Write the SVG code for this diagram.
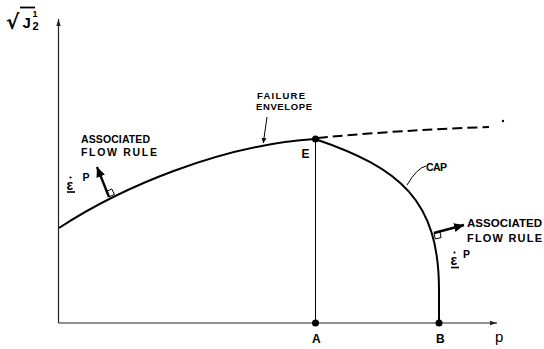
<svg xmlns="http://www.w3.org/2000/svg" width="544" height="349" viewBox="0 0 544 349">
<style>
.lbl{font-family:"Liberation Sans",Arial,sans-serif;font-weight:bold;fill:#000}
.ax{stroke:#222;stroke-width:1.2;fill:none}
.crv{stroke:#000;stroke-width:2;fill:none}
.thin{stroke:#000;stroke-width:1;fill:none}
.pt{fill:#000}
</style>
<defs>
<marker id="axh" markerWidth="8" markerHeight="6" refX="7" refY="3" orient="auto" markerUnits="userSpaceOnUse">
<path d="M0,0.8 L7,3 L0,5.2 Z" fill="#222"/>
</marker>
<marker id="fh" markerWidth="11" markerHeight="9" refX="10" refY="4.5" orient="auto" markerUnits="userSpaceOnUse">
<path d="M0,0 L10,4.5 L0,9 Z" fill="#000"/>
</marker>
<marker id="lh" markerWidth="6" markerHeight="6" refX="5" refY="3" orient="auto" markerUnits="userSpaceOnUse">
<path d="M0,0.5 L5,3 L0,5.5 Z" fill="#000"/>
</marker>
</defs>

<g id="axes">
<line class="ax" x1="58.5" y1="323" x2="58.5" y2="19" marker-end="url(#axh)"/>
<line class="ax" x1="58.5" y1="323" x2="497" y2="323" marker-end="url(#axh)"/>
<g id="ylabel">
<text x="6" y="29" style="font-family:'DejaVu Sans',sans-serif;font-size:20px;font-weight:bold">√</text>
<line x1="20" y1="7.5" x2="35" y2="7.5" stroke="#000" stroke-width="1.8"/>
<text class="lbl" x="22.5" y="28" font-size="15">J</text>
<text class="lbl" x="32.5" y="17" font-size="9">1</text>
<text class="lbl" x="32.5" y="30" font-size="11">2</text>
</g>
<text x="495" y="342" style="font-family:'Liberation Sans',Arial,sans-serif;font-size:15px">p</text>
</g>

<g id="connectors">
<path id="failure-envelope" class="crv" d="M59,228 C120,188 220,145 315,139"/>
<path id="envelope-extension" class="crv" stroke-dasharray="10,5" d="M318,138 Q400,130 489,127"/>
<circle cx="503" cy="121" r="1.2" class="pt"/>
<path id="cap" class="crv" d="M315,139 C400,168 439,200 439,290 L439,323"/>
<line id="EA" class="thin" x1="315.5" y1="139" x2="315.5" y2="323"/>
<path id="cap-leader" class="thin" d="M426,166 Q417,168 407,185"/>
<line id="fe-leader" class="thin" x1="267" y1="117" x2="263.3" y2="143" marker-end="url(#lh)"/>
<line id="flow-left" stroke="#000" stroke-width="2.4" x1="109" y1="197" x2="97" y2="167" marker-end="url(#fh)"/>
<line id="flow-right" stroke="#000" stroke-width="2.4" x1="434" y1="233" x2="464" y2="225" marker-end="url(#fh)"/>
<polygon class="thin" points="109,197 114.4,194.3 111.7,188.9 106.3,191.6"/>
<polygon class="thin" points="434,233 439.9,231.8 441.1,237.7 435.2,238.9"/>
</g>

<g id="E">
<circle class="pt" cx="315.5" cy="139" r="3.5"/>
<text class="lbl" x="301.5" y="158" font-size="12">E</text>
</g>
<g id="A">
<circle class="pt" cx="315.5" cy="323" r="3.5"/>
<text class="lbl" x="312" y="343" font-size="12">A</text>
</g>
<g id="B">
<circle class="pt" cx="439" cy="323" r="3.5"/>
<text class="lbl" x="436" y="343" font-size="12">B</text>
</g>

<g id="label-failure">
<text class="lbl" x="257" y="99" font-size="9.5" textLength="48" lengthAdjust="spacing">FAILURE</text>
<text class="lbl" x="256" y="110" font-size="9.5" textLength="56" lengthAdjust="spacing">ENVELOPE</text>
</g>
<g id="label-cap">
<text class="lbl" x="426" y="171" font-size="10.5" textLength="21" lengthAdjust="spacing">CAP</text>
</g>
<g id="label-flow-left">
<text class="lbl" x="81" y="143" font-size="10.5" textLength="69" lengthAdjust="spacing">ASSOCIATED</text>
<text class="lbl" x="81" y="156" font-size="10.5" textLength="76" lengthAdjust="spacing">FLOW  RULE</text>
<text class="lbl" x="66.5" y="190" font-size="14">ε</text>
<circle cx="70.5" cy="177.5" r="1.1" class="pt"/>
<line x1="67" y1="192" x2="75" y2="192" stroke="#000" stroke-width="1.6"/>
<text class="lbl" x="82.5" y="181" font-size="10.5">P</text>
</g>
<g id="label-flow-right">
<text class="lbl" x="467" y="227" font-size="11.5" textLength="75" lengthAdjust="spacing">ASSOCIATED</text>
<text class="lbl" x="467" y="242" font-size="11" textLength="75" lengthAdjust="spacing">FLOW  RULE</text>
<text class="lbl" x="450.5" y="265" font-size="14">ε</text>
<circle cx="454.5" cy="252.5" r="1.1" class="pt"/>
<line x1="451" y1="267.5" x2="459" y2="267.5" stroke="#000" stroke-width="1.6"/>
<text class="lbl" x="463" y="257.5" font-size="10.5">P</text>
</g>
</svg>
